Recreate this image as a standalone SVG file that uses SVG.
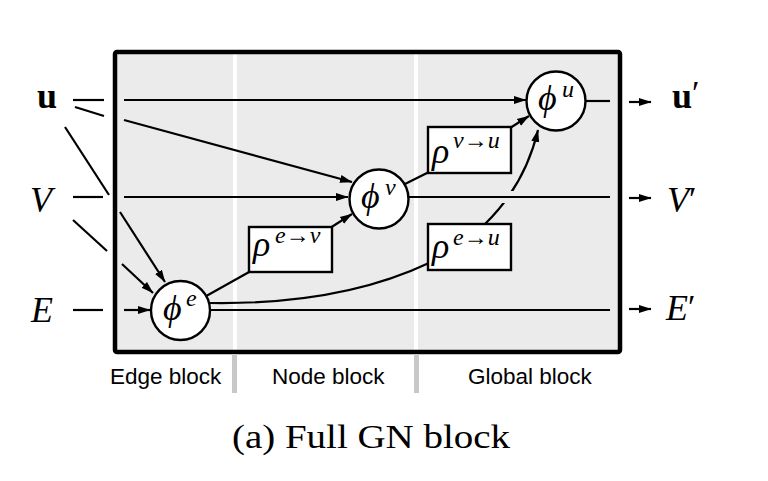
<svg xmlns="http://www.w3.org/2000/svg" width="768" height="481" viewBox="0 0 768 481">
<style>
.ln{fill:none;stroke:#000;stroke-width:2.2;stroke-linecap:butt}
.arr{marker-end:url(#ah)}
.nd{fill:#fff;stroke:#000;stroke-width:2.4}
.m{font-family:"Liberation Serif","DejaVu Serif",serif;font-style:italic;font-size:36px;fill:#000}
.sup{font-family:"Liberation Serif","DejaVu Serif",serif;font-style:italic;font-size:24px;fill:#000}
.bold{font-family:"Liberation Serif","DejaVu Serif",serif;font-weight:bold;font-size:36px;fill:#000}
.up{font-family:"Liberation Serif","DejaVu Serif",serif;font-size:34px;fill:#000}
.lab{font-family:"Liberation Sans",Arial,sans-serif;font-size:22.5px;fill:#000}
.cap{font-family:"Liberation Serif","DejaVu Serif",serif;font-size:33px;fill:#000}
.sep{stroke:#fff;stroke-width:4}
.gsep{stroke:#c8c8c8;stroke-width:5}
</style>
<defs>
<marker id="ah" markerUnits="userSpaceOnUse" markerWidth="13" markerHeight="10" refX="12" refY="4.5" orient="auto" viewBox="0 0 13 9">
<path d="M0,0.5 L12.5,4.5 L0,8.5 z" fill="#000"/>
</marker>
</defs>
<rect width="768" height="481" fill="#fff"/>

<g id="frame">
<rect x="115" y="52" width="505" height="300" fill="#ebebeb"/>
<line class="sep" x1="235" y1="54" x2="235" y2="350"/>
<line class="sep" x1="416" y1="54" x2="416" y2="350"/>
<rect x="115" y="52" width="505" height="300" fill="none" stroke="#000" stroke-width="4.5" rx="2"/>
<line class="gsep" x1="234.5" y1="354" x2="234.5" y2="393"/>
<line class="gsep" x1="416.5" y1="354" x2="416.5" y2="393"/>
<text class="lab" x="110" y="384">Edge block</text>
<text class="lab" x="272" y="384">Node block</text>
<text class="lab" x="468" y="384">Global block</text>
</g>

<g id="connectors">
<!-- outside input segments -->
<line class="ln" x1="73" y1="100" x2="104" y2="100"/>
<line class="ln" x1="75" y1="107" x2="104" y2="116"/>
<line class="ln" x1="65" y1="127" x2="109" y2="195"/>
<line class="ln" x1="73" y1="197" x2="103" y2="197"/>
<line class="ln" x1="73" y1="220" x2="107" y2="251"/>
<line class="ln" x1="73" y1="310" x2="103" y2="310"/>
<!-- inside input lines -->
<line class="ln arr" x1="124" y1="100" x2="526" y2="100"/>
<line class="ln arr" x1="124" y1="120" x2="352" y2="182"/>
<line class="ln arr" x1="120" y1="212" x2="165" y2="282"/>
<line class="ln arr" x1="124" y1="197" x2="348" y2="197"/>
<line class="ln arr" x1="122" y1="264" x2="153" y2="293"/>
<line class="ln arr" x1="124" y1="310" x2="150" y2="310"/>
<!-- internal -->
<line class="ln" x1="206.7" y1="295.8" x2="250" y2="271.5"/>
<line class="ln arr" x1="330" y1="228" x2="352" y2="214"/>
<line class="ln" x1="405" y1="184" x2="429" y2="172"/>
<line class="ln arr" x1="510" y1="128" x2="529" y2="116"/>
<path class="ln" d="M210,303 Q340,305 429,263"/>
<path class="ln arr" d="M485,224 Q525,185 538,130"/>
<!-- outputs inside -->
<line class="ln" x1="586" y1="101" x2="610" y2="101"/>
<line stroke="#ebebeb" stroke-width="12" x1="492" y1="197" x2="520" y2="197"/>
<line class="ln" x1="409" y1="197" x2="610" y2="197"/>
<line class="ln" x1="210" y1="310" x2="610" y2="310"/>
<!-- outputs outside -->
<line class="ln arr" x1="629" y1="102" x2="651" y2="102"/>
<line class="ln arr" x1="629" y1="198" x2="651" y2="198"/>
<line class="ln arr" x1="629" y1="309" x2="651" y2="309"/>
</g>

<g id="in_u"><text class="bold" x="37" y="108">u</text></g>
<g id="in_V"><text class="m" x="30" y="212">V</text></g>
<g id="in_E"><text class="m" x="31" y="322">E</text></g>
<g id="out_u"><text class="bold" x="672" y="108">u<tspan class="up" font-weight="normal" dy="-4">′</tspan></text></g>
<g id="out_V"><text class="m" x="667" y="212">V<tspan class="up" font-style="normal" dy="-2">′</tspan></text></g>
<g id="out_E"><text class="m" x="666" y="320">E<tspan class="up" font-style="normal" dy="-2">′</tspan></text></g>

<g id="phi_e">
<circle class="nd" cx="180.5" cy="310.5" r="29.5"/>
<text class="m" x="163" y="320">ϕ</text><text class="sup" x="186" y="306">e</text>
</g>
<g id="phi_v">
<circle class="nd" cx="379" cy="199" r="29.5"/>
<text class="m" x="361" y="208">ϕ</text><text class="sup" x="385" y="195">v</text>
</g>
<g id="phi_u">
<circle class="nd" cx="556" cy="101" r="29.5"/>
<text class="m" x="538" y="110">ϕ</text><text class="sup" x="562" y="97">u</text>
</g>
<g id="rho_ev">
<rect class="nd" x="249" y="227" width="83" height="45"/>
<text class="m" x="253" y="256">ρ</text><text class="sup" x="275" y="243">e→v</text>
</g>
<g id="rho_vu">
<rect class="nd" x="428" y="127" width="83" height="46"/>
<text class="m" x="432" y="163">ρ</text><text class="sup" x="453" y="148">v→u</text>
</g>
<g id="rho_eu">
<rect class="nd" x="428" y="224" width="83" height="46"/>
<text class="m" x="432" y="258">ρ</text><text class="sup" x="453" y="245">e→u</text>
</g>

<g id="caption"><text class="cap" x="232" y="448" textLength="278" lengthAdjust="spacingAndGlyphs">(a) Full GN block</text></g>
</svg>
